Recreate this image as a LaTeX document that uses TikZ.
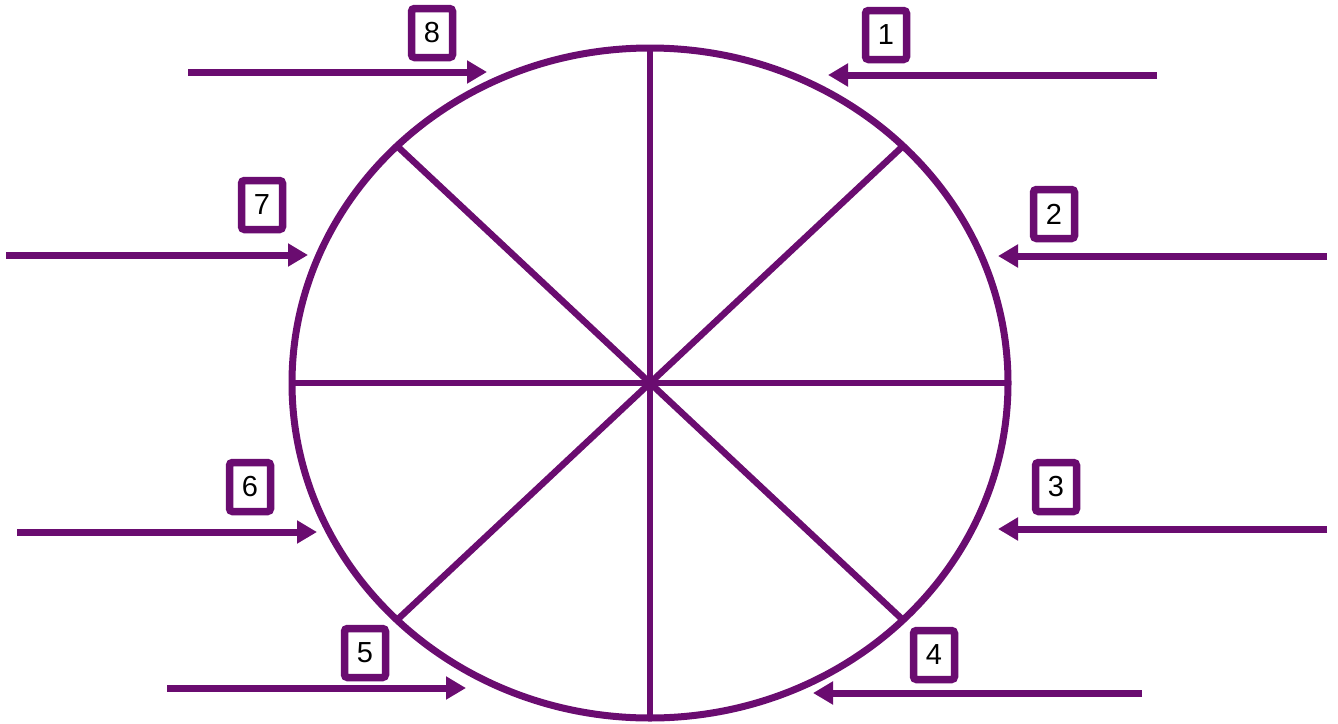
\documentclass[tikz,border=0pt]{standalone}
\usepackage{fontspec}
\setmainfont{Liberation Sans}
\usetikzlibrary{arrows.meta}
\definecolor{wheel}{RGB}{106,12,112}
\tikzset{
  rim/.style={draw=wheel, line width=7pt},
  spoke/.style={draw=wheel, line width=6.5pt},
  pointer/.style={draw=wheel, line width=7pt, -{Triangle[length=20pt,width=22pt]}},
  numbox/.style={draw=wheel, line width=7.5pt, rounded corners=3pt, fill=white,
    minimum width=41pt, minimum height=49pt, inner sep=0pt,
    font=\fontsize{29}{29}\selectfont, text=black}
}
\begin{document}
\begin{tikzpicture}[x=1pt,y=-1pt]
\useasboundingbox (0,0) rectangle (1338,723);
\coordinate (c) at (650,383);
\draw[rim] (c) ellipse [x radius=358pt, y radius=335pt];
\coordinate (top) at (650,48);
\coordinate (bot) at (650,718);
\coordinate (lft) at (292,383);
\coordinate (rgt) at (1008,383);
\coordinate (ne) at (903,146);
\coordinate (nw) at (397,146);
\coordinate (se) at (903,620);
\coordinate (sw) at (397,620);
\draw[spoke] (top) -- (bot);
\draw[spoke] (lft) -- (rgt);
\draw[spoke] (ne) -- (sw);
\draw[spoke] (nw) -- (se);
% arrows
\coordinate (t1) at (1157,75); \coordinate (h1) at (828,75);
\coordinate (t2) at (1327,256); \coordinate (h2) at (998,256);
\coordinate (t3) at (1327,529); \coordinate (h3) at (998,529);
\coordinate (t4) at (1142,693); \coordinate (h4) at (813,693);
\coordinate (t5) at (167,688); \coordinate (h5) at (466,688);
\coordinate (t6) at (17,532); \coordinate (h6) at (317,532);
\coordinate (t7) at (6,255); \coordinate (h7) at (308,255);
\coordinate (t8) at (188,72); \coordinate (h8) at (487,72);
\foreach \i in {1,...,8}{\draw[pointer] (t\i) -- (h\i);}
% boxes
\node[numbox] (b1) at (886,35) {1};
\node[numbox] (b2) at (1054,214) {2};
\node[numbox] (b3) at (1056,487) {3};
\node[numbox] (b4) at (934,655) {4};
\node[numbox] (b5) at (365,653) {5};
\node[numbox] (b6) at (250,487) {6};
\node[numbox] (b7) at (262,205) {7};
\node[numbox] (b8) at (432,33) {8};
\end{tikzpicture}
\end{document}
